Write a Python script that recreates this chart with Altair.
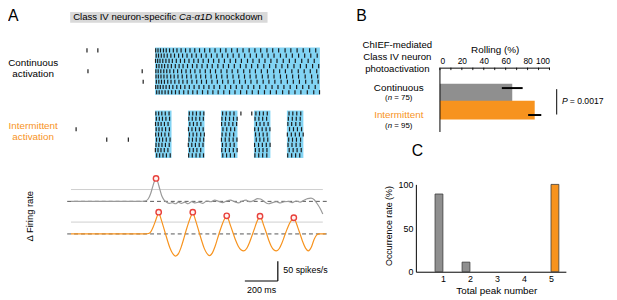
import altair as alt
import pandas as pd

OX, OY = 8, 8            # page margin
W, H = 617 - OX, 300 - OY


def px(x):
    return x - OX


def py(y):
    return y - OY


# ---------------- DATA ----------------
# Panel A: spike rasters, spike times in ms (light onset = 0), one list per trial row
cont_spikes = [
    [4, 18, 33, 51, 68, 88, 111, 133, 158, 185, 212, 241, 270, 301, 332, 364, 397, 430, 465, 499, 534, 571, 606, 641, 679, 714, 750, 789, 824, 862, 899, 938, 975],
    [7, 21, 38, 55, 74, 96, 118, 143, 167, 194, 223, 250, 281, 310, 342, 376, 408, 441, 474, 509, 544, 578, 615, 650, 686, 722, 761, 796, 833, 871, 908, 945, 984],
    [3, 16, 30, 47, 66, 85, 105, 129, 154, 179, 206, 235, 262, 292, 324, 355, 387, 421, 456, 489, 524, 561, 594, 632, 667, 703, 740, 778, 815, 851, 890, 929, 966],
    [9, 24, 41, 58, 78, 99, 123, 146, 170, 197, 227, 254, 285, 317, 347, 381, 414, 446, 481, 518, 552, 586, 623, 660, 695, 733, 770, 805, 843, 882, 918, 956, 993],
    [5, 19, 35, 53, 71, 90, 113, 137, 161, 188, 215, 242, 273, 305, 336, 367, 401, 436, 468, 502, 538, 575, 609, 645, 682, 720, 756, 791, 830, 869, 905, 942, 981],
    [6, 20, 36, 54, 73, 95, 116, 139, 165, 192, 219, 249, 277, 307, 340, 373, 405, 438, 473, 508, 543, 577, 613, 651, 686, 722, 761, 798, 835, 871, 911, 950, 987],
    [8, 23, 39, 57, 77, 97, 120, 145, 169, 195, 224, 253, 282, 312, 345, 378, 410, 443, 478, 513, 548, 582, 619, 656, 691, 727, 765, 803, 839, 876, 914, 953, 990],
    [4, 17, 32, 49, 67, 87, 108, 132, 155, 181, 208, 237, 267, 296, 327, 358, 392, 426, 459, 493, 528, 565, 599, 635, 672, 710, 746, 782, 820, 859, 896, 933, 972],
    [10, 25, 42, 61, 80, 101, 124, 147, 174, 201, 229, 256, 288, 320, 351, 383, 417, 452, 485, 519, 556, 590, 627, 664, 700, 736, 774, 812, 849, 885, 924, 963, 998],
]
cont_extra_t = [-413, -347, -407, -78, -72]
cont_extra_row = [0, 0, 4, 4, 6]

inter_spikes = [
    [5, 22, 41, 62, 85, 208, 229, 251, 274, 296, 410, 432, 455, 479, 612, 634, 657, 681, 813, 836, 860, 884],
    [8, 26, 45, 66, 88, 205, 226, 248, 271, 293, 406, 428, 452, 476, 498, 607, 630, 653, 677, 809, 833, 857, 881],
    [3, 19, 37, 57, 79, 211, 233, 255, 278, 404, 425, 448, 472, 495, 615, 637, 661, 686, 806, 829, 854, 879],
    [7, 24, 43, 64, 87, 203, 224, 246, 269, 292, 412, 435, 459, 483, 605, 627, 650, 674, 697, 816, 840, 864, 889],
    [4, 21, 39, 60, 83, 209, 231, 253, 277, 299, 407, 430, 453, 477, 610, 633, 656, 680, 803, 827, 851, 876, 899],
    [9, 27, 46, 68, 91, 206, 227, 250, 273, 295, 403, 426, 450, 474, 497, 614, 636, 660, 684, 811, 834, 858, 883],
    [6, 23, 42, 63, 86, 202, 223, 245, 268, 291, 409, 431, 456, 480, 604, 628, 651, 675, 698, 807, 831, 856, 881],
    [2, 18, 36, 56, 78, 210, 232, 254, 277, 405, 427, 451, 475, 498, 609, 632, 655, 679, 814, 838, 862, 887],
    [10, 28, 48, 69, 92, 204, 226, 249, 272, 294, 411, 434, 457, 482, 606, 629, 653, 678, 805, 829, 853, 878],
]
inter_extra_t = [-479, -293, -162, 521, 587]
inter_extra_row = [3, 5, 5, 0, 0]

cont_light_start = [0]
cont_light_end = [1000]
inter_light_start = [0, 200, 400, 600, 800]
inter_light_end = [100, 300, 500, 700, 900]

# Panel A: delta firing rate traces (t in ms, rate in spikes/s)
cont_rate = [(-510, 0), (-90, 0), (-60, 1), (-42, 6), (-28, 18), (-15, 36), (-4, 51), (6, 58),
             (16, 50), (28, 32), (40, 15), (54, 4), (70, -2), (88, -5), (106, -3), (124, -6),
             (142, -2), (160, -5), (180, -2), (200, -6), (222, -1), (244, -4), (266, -2),
             (290, -5), (314, 1), (338, -1), (362, 3), (386, 0), (410, -3), (434, 1), (458, 3),
             (482, -1), (506, -4), (530, 1), (552, 3), (574, -1), (598, 2), (622, 7), (640, 6),
             (664, -1), (688, -6), (712, -3), (736, -1), (760, -4), (784, -1), (808, 0),
             (832, -3), (856, 1), (880, -2), (904, 3), (926, 7), (946, 8), (966, 4), (984, -6),
             (1002, -18), (1018, -32)]
inter_rate = [(-510, 0), (-60, 0), (-40, 1), (-25, 6), (-12, 17), (0, 30), (12, 44), (22, 55),
              (32, 44), (45, 26), (60, 5), (75, -16), (90, -35), (106, -49), (124, -56),
              (142, -50), (158, -34), (173, -14), (188, 8), (203, 28), (217, 44), (229, 55),
              (239, 44), (252, 26), (267, 5), (282, -16), (298, -36), (314, -49), (331, -55),
              (348, -48), (364, -32), (379, -12), (394, 8), (409, 26), (423, 39), (435, 46),
              (445, 37), (458, 21), (473, 3), (489, -16), (505, -31), (521, -40), (539, -43),
              (556, -37), (572, -23), (587, -6), (602, 12), (616, 29), (627, 39), (637, 45),
              (647, 37), (660, 21), (675, 3), (690, -16), (705, -31), (720, -40), (737, -43),
              (754, -37), (770, -23), (785, -6), (800, 11), (815, 26), (831, 36), (842, 41),
              (852, 33), (865, 18), (880, 0), (896, -20), (913, -36), (930, -43), (948, -34),
              (965, -14), (980, -3), (995, 0), (1036, 0)]
cont_peak_t = [6]
cont_peak_v = [58]
inter_peak_t = [22, 229, 435, 637, 842]
inter_peak_v = [55, 55, 46, 45, 41]
threshold_rate = 30
ref_line_t = [-510, 1018]
baseline_t = [-533, 1048]
scalebar_ms = 200
scalebar_rate = 50

# Panel B
conditions = ["Continuous", "Intermittent"]
n_larvae = [75, 95]
rolling_pct = [66, 86.5]
rolling_sem = [9.5, 6]
p_text = "= 0.0017"
rolling_ticks = [0, 20, 40, 60, 80, 100]

# Panel C
peak_numbers = [1, 2, 3, 4, 5]
cont_occurrence = [89, 11, 0, 0, 0]
inter_occurrence = [0, 0, 0, 0, 100]

# ---------------- STYLE ----------------
GRAY = "#8f8f8f"
ORANGE = "#f7931e"
BLUE = "#82d4f4"
TRACE_GRAY = "#9a9a9a"
RED = "#e8413c"
FONT = "Liberation Sans"


def tscale():
    return alt.Scale(domain=[0, 1000], range=[px(157), px(324)], nice=False, zero=False)


def row_scale(top):
    return alt.Scale(domain=[0, 8], range=[py(top), py(top + 42.4)], nice=False, zero=False)


def rate_scale(base):
    return alt.Scale(domain=[0, 50], range=[py(base), py(base - 20)], nice=False, zero=False)


def label(text, x, y, size=10, color="black", align="center", angle=0, italic=False):
    return alt.Chart(alt.Data(values=[{"a": 1}])).mark_text(
        text=text, fontSize=size, color=color, align=align, baseline="middle",
        angle=angle, fontStyle="italic" if italic else "normal", font=FONT,
    ).encode(x=alt.value(px(x)), y=alt.value(py(y)))


layers = []

# ---- Panel A: raster light boxes ----
cont_box = pd.DataFrame({"s": cont_light_start, "e": cont_light_end})
inter_box = pd.DataFrame({"s": inter_light_start, "e": inter_light_end})
layers.append(alt.Chart(cont_box).mark_rect(color=BLUE).encode(
    x=alt.X("s:Q", scale=tscale(), axis=None), x2="e:Q",
    y=alt.value(py(46)), y2=alt.value(py(94))))
layers.append(alt.Chart(inter_box).mark_rect(color=BLUE).encode(
    x=alt.X("s:Q", scale=tscale(), axis=None), x2="e:Q",
    y=alt.value(py(110)), y2=alt.value(py(158))))


def raster_df(spikes, extra_t, extra_row):
    recs = [{"t": t, "row": r} for r, ts in enumerate(spikes) for t in ts]
    recs += [{"t": t, "row": r} for t, r in zip(extra_t, extra_row)]
    return pd.DataFrame(recs)


for df, top in [(raster_df(cont_spikes, cont_extra_t, cont_extra_row), 49),
                (raster_df(inter_spikes, inter_extra_t, inter_extra_row), 113)]:
    layers.append(alt.Chart(df).mark_tick(orient="vertical", size=4.2, thickness=1.2,
                                          color="#1c1c1c", opacity=1).encode(
        x=alt.X("t:Q", scale=tscale(), axis=None),
        y=alt.Y("row:Q", scale=row_scale(top), axis=None)))

# ---- Panel A: firing rate traces ----
for trace, base, col, pk_t, pk_v in [(cont_rate, 202, TRACE_GRAY, cont_peak_t, cont_peak_v),
                                     (inter_rate, 235, ORANGE, inter_peak_t, inter_peak_v)]:
    ref = pd.DataFrame({"t0": [ref_line_t[0]], "t1": [ref_line_t[1]], "v": [threshold_rate]})
    layers.append(alt.Chart(ref).mark_rule(color="#c9c9c9", strokeWidth=0.9).encode(
        x=alt.X("t0:Q", scale=tscale(), axis=None), x2="t1:Q",
        y=alt.Y("v:Q", scale=rate_scale(base), axis=None)))
    bl = pd.DataFrame({"t0": [baseline_t[0]], "t1": [baseline_t[1]], "v": [0]})
    layers.append(alt.Chart(bl).mark_rule(color="#555555", strokeWidth=1, strokeDash=[4, 3]).encode(
        x=alt.X("t0:Q", scale=tscale(), axis=None), x2="t1:Q",
        y=alt.Y("v:Q", scale=rate_scale(base), axis=None)))
    tr = pd.DataFrame(trace, columns=["t", "v"])
    layers.append(alt.Chart(tr).mark_line(color=col, strokeWidth=1.2, interpolate="monotone").encode(
        x=alt.X("t:Q", scale=tscale(), axis=None),
        y=alt.Y("v:Q", scale=rate_scale(base), axis=None)))
    pk = pd.DataFrame({"t": pk_t, "v": pk_v})
    layers.append(alt.Chart(pk).mark_point(shape="circle", size=30, fill="#fff4f2", stroke=RED,
                                           strokeWidth=1.4, opacity=1).encode(
        x=alt.X("t:Q", scale=tscale(), axis=None),
        y=alt.Y("v:Q", scale=rate_scale(base), axis=None)))

# scale bar
sb_t0 = 545
sb = pd.DataFrame({"t0": [sb_t0], "t1": [sb_t0 + scalebar_ms], "v0": [0], "v1": [scalebar_rate]})
layers.append(alt.Chart(sb).mark_rule(color="black", strokeWidth=1.2).encode(
    x=alt.X("t0:Q", scale=tscale(), axis=None), x2="t1:Q",
    y=alt.Y("v0:Q", scale=rate_scale(282.7), axis=None)))
layers.append(alt.Chart(sb).mark_rule(color="black", strokeWidth=1.2).encode(
    x=alt.X("t1:Q", scale=tscale(), axis=None),
    y=alt.Y("v0:Q", scale=rate_scale(282.7), axis=None), y2="v1:Q"))

# title box
layers.append(alt.Chart(alt.Data(values=[{"a": 1}])).mark_rect(color="#d9d9d9").encode(
    x=alt.value(px(71)), x2=alt.value(px(271)), y=alt.value(py(10)), y2=alt.value(py(21))))

# ---- Panel B ----
bdf = pd.DataFrame({"cond": conditions, "idx": [0, 1], "pct": rolling_pct, "sem": rolling_sem})


def bx():
    return alt.Scale(domain=[0, 100], range=[px(445.7), px(556.7)], nice=False, zero=False)


def by():
    return alt.Scale(domain=[0, 1], range=[py(87.2), py(114.5)], nice=False, zero=False)


layers.append(alt.Chart(bdf).mark_bar(orient="horizontal", size=19).encode(
    x=alt.X("pct:Q", scale=bx(), stack=None,
            axis=alt.Axis(orient="top", offset=-(py(66.5)), values=rolling_ticks, title=None,
                          grid=False, ticks=False, labelPadding=2, labelFontSize=8.5,
                          labelColor="black", domainColor="black", domainWidth=1, labelFont=FONT)),
    y=alt.Y("idx:Q", scale=by(), axis=None),
    color=alt.Color("cond:N", scale=alt.Scale(domain=conditions, range=[GRAY, ORANGE]), legend=None)))
layers.append(alt.Chart(bdf).transform_calculate(
    lo="datum.pct - datum.sem", hi="datum.pct + datum.sem").mark_rule(
    color="black", strokeWidth=2).encode(
    x=alt.X("lo:Q", scale=bx(), axis=None), x2="hi:Q",
    y=alt.Y("idx:Q", scale=by(), axis=None)))
btick = pd.DataFrame({"v": list(range(0, 101, 10))})
layers.append(alt.Chart(btick).mark_rule(color="black", strokeWidth=0.9).encode(
    x=alt.X("v:Q", scale=bx(), axis=None), y=alt.value(py(66.5)), y2=alt.value(py(69))))
layers.append(alt.Chart(pd.DataFrame({"v": [0]})).mark_rule(color="black", strokeWidth=1).encode(
    x=alt.X("v:Q", scale=bx(), axis=None), y=alt.value(py(66.5)), y2=alt.value(py(131.7))))
# significance bracket
layers.append(alt.Chart(alt.Data(values=[{"a": 1}])).mark_rule(color="black", strokeWidth=1).encode(
    x=alt.value(px(564)), y=alt.value(py(88.3)), y2=alt.value(py(114))))

# ---- Panel C ----
crec = []
for k, a, b in zip(peak_numbers, cont_occurrence, inter_occurrence):
    crec.append({"peak": k, "cond": "Continuous", "rate": a})
    crec.append({"peak": k, "cond": "Intermittent", "rate": b})
cdf = pd.DataFrame(crec)
cdf = cdf[cdf["rate"] > 0]

layers.append(alt.Chart(cdf).transform_calculate(
    x0="datum.cond == 'Continuous' ? datum.peak - 0.29 : datum.peak",
    x1="datum.cond == 'Continuous' ? datum.peak : datum.peak + 0.29",
    base="0").mark_rect(stroke="#3a3a3a", strokeWidth=0.8).encode(
    x=alt.X("x0:Q", scale=alt.Scale(domain=[0, 5.55], range=[px(421.3), px(573.3)], nice=False, zero=False),
            axis=alt.Axis(orient="bottom", offset=py(273.3) - H, values=peak_numbers, format="d",
                          title=None, grid=False, ticks=False, labelPadding=3, labelFontSize=9,
                          labelColor="black", domainColor="black", domainWidth=1, labelFont=FONT)),
    x2="x1:Q",
    y=alt.Y("rate:Q", scale=alt.Scale(domain=[0, 100], range=[py(273.3), py(184.8)], nice=False, zero=False),
            axis=alt.Axis(orient="left", offset=-px(421.3), values=[0, 50, 100], title=None,
                          grid=False, ticks=False, labelPadding=3, labelFontSize=9,
                          labelColor="black", domainColor="black", domainWidth=1, labelFont=FONT)),
    y2="base:Q",
    color=alt.Color("cond:N", scale=alt.Scale(domain=conditions, range=[GRAY, ORANGE]), legend=None)))

# ---- Text ----
layers += [
    label("A", 8, 14, size=16, align="left"),
    label("B", 361, 14, size=16, align="left"),
    label("C", 417, 151, size=16, align="left"),
    label("Class IV neuron-specific", 74, 15.5, size=9.7, align="left"),
    label("Ca-\u03b11D", 181.3, 15.5, size=9.7, align="left", italic=True),
    label("knockdown", 217.6, 15.5, size=9.7, align="left"),
    label("Continuous", 33.5, 62, size=10),
    label("activation", 33.5, 73, size=10),
    label("Intermittent", 33.5, 126, size=10, color=ORANGE),
    label("activation", 33.5, 136.5, size=10, color=ORANGE),
    label("\u0394 Firing rate", 30, 217, size=9.5, angle=270),
    label("200 ms", 265, 292, size=9),
    label("50 spikes/s", 287, 272, size=9, align="left"),
    label("ChIEF-mediated", 402.5, 44, size=9.7),
    label("Class IV neuron", 402.5, 56, size=9.7),
    label("photoactivation", 402.5, 67.5, size=9.7),
    label("Rolling (%)", 501.7, 49, size=10),
    label("Continuous", 404, 87.3, size=10),
    label("(", 390.1, 97, size=8, align="left"),
    label("n", 392.8, 97, size=8, align="left", italic=True),
    label(f"= {n_larvae[0]})", 399.4, 97, size=8, align="left"),
    label("Intermittent", 404, 115, size=10, color=ORANGE),
    label("(", 390.1, 126, size=8, align="left"),
    label("n", 392.8, 126, size=8, align="left", italic=True),
    label(f"= {n_larvae[1]})", 399.4, 126, size=8, align="left"),
    label("P", 569.3, 100, size=8.7, align="left", italic=True),
    label(p_text, 577.3, 100, size=8.7, align="left"),
    label("Occurrence rate (%)", 394, 227, size=9, angle=270),
    label("Total peak number", 503.3, 293, size=10),
]

chart = alt.layer(*layers).resolve_scale(
    x="independent", y="independent", color="independent"
).properties(
    width=W, height=H, autosize=alt.AutoSizeParams(type="none"), padding=0
).configure(font=FONT).configure_view(stroke=None)

chart.save("out.html", embed_options={"renderer": "svg", "actions": False})
